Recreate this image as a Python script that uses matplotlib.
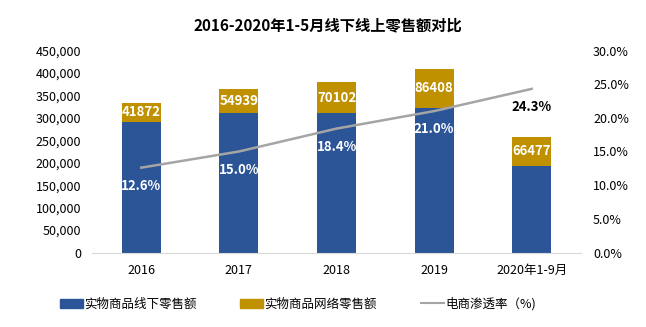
"""
2016-2020 线下/线上零售额对比
"""

import matplotlib.pyplot as plt
from matplotlib.lines import Line2D
from matplotlib.patches import Patch
from matplotlib.ticker import FuncFormatter

plt.rcParams['font.family'] = ['Noto Sans CJK SC', 'DejaVu Sans']

years = ['2016', '2017', '2018', '2019', '2020年1-9月']
offline = [291000, 309800, 310200, 322900, 191900]
online = [41872, 54939, 70102, 86408, 66477]
rate = [12.6, 15.0, 18.4, 21.0, 24.3]

BLUE = '#2B5597'
GOLD = '#BF9000'
GRAY = '#A5A5A5'

fig = plt.figure(figsize=(6.46, 3.27), dpi=100)
ax = fig.add_axes([92.5 / 646, 1 - 252.5 / 327, 488 / 646, 202 / 327])
x = list(range(len(years)))

ax.bar(x, offline, width=0.4, color=BLUE)
ax.bar(x, online, width=0.4, bottom=offline, color=GOLD)
for i in x:
    ax.text(i, offline[i] + online[i] / 2, str(online[i]), ha='center', va='center',
            color='white', fontsize=9.5, fontweight='bold')

ax.set_ylim(0, 450000)
ax.set_xlim(-0.5, len(years) - 0.5)
ax.set_yticks(range(0, 450001, 50000))
ax.yaxis.set_major_formatter(FuncFormatter(lambda v, p: f'{int(v):,}'))
ax.set_xticks(x)
ax.set_xticklabels(years)
for s in ['top', 'left', 'right']:
    ax.spines[s].set_visible(False)
ax.spines['bottom'].set_color('#D9D9D9')
ax.tick_params(axis='both', length=0, labelsize=9, pad=8)

ax2 = ax.twinx()
ax2.plot(x, rate, color=GRAY, linewidth=1.8)
ax2.set_ylim(0, 30)
ax2.set_yticks(range(0, 31, 5))
ax2.yaxis.set_major_formatter(FuncFormatter(lambda v, p: f'{v:.1f}%'))
for s in ax2.spines.values():
    s.set_visible(False)
ax2.tick_params(axis='y', length=0, labelsize=9, pad=9)
for i in x:
    c = 'black' if i == len(years) - 1 else 'white'
    ax2.text(i, rate[i] - 2.7, f'{rate[i]:.1f}%', ha='center', va='center',
             color=c, fontsize=9.5, fontweight='bold')

fig.text(0.508, 0.923, '2016-2020年1-5月线下线上零售额对比', ha='center', va='center',
         fontsize=11, fontweight='bold')

handles = [Patch(color=BLUE), Patch(color=GOLD), Line2D([0], [0], color=GRAY, lw=1.5)]
labels = ['实物商品线下零售额', '实物商品网络零售额', '电商渗透率（%)']
fig.legend(handles, labels, loc='center', bbox_to_anchor=(0.461, 0.07), ncol=3,
           frameon=False, fontsize=9, handlelength=1.85, handletextpad=0.1,
           columnspacing=3.5)

fig.savefig('out.png', dpi=100)
